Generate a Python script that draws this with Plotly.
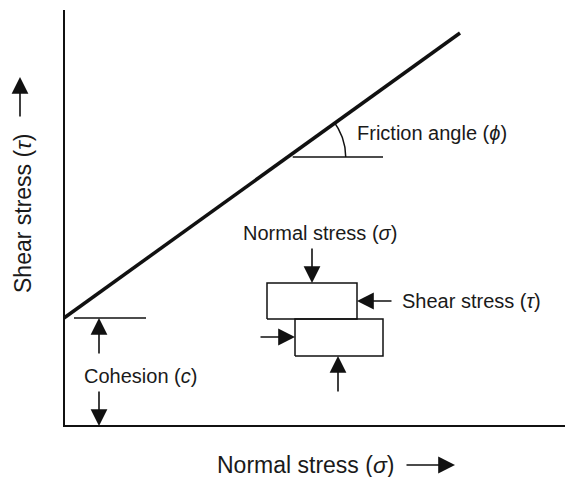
import numpy as np
import plotly.graph_objects as go

# --- diagram quantities (data units: 1 unit ~ 1 px in the reference) ---
cohesion = 108            # tau intercept (c)
sigma_max = 396           # end of failure envelope
tau_end = 393             # tau at sigma_max
axis_len_x = 520
axis_len_y = 416
phi_ref_tau = 269         # level at which friction angle is shown
phi_line_end = 319
phi_arc_r = 58

# block diagram (direct shear box)
upper_block = dict(x0=203, x1=293, y0=107, y1=143)
lower_block = dict(x0=231, x1=319, y0=70, y1=107)

labels = {
    "cohesion": "Cohesion (<i>c</i>)",
    "phi": "Friction angle (<i>ϕ</i>)",
    "normal": "Normal stress (<i>σ</i>)",
    "shear": "Shear stress (<i>τ</i>)",
    "xtitle": "Normal stress (<i>σ</i>)",
    "ytitle": "Shear stress (<i>τ</i>)",
}

slope = (tau_end - cohesion) / sigma_max
phi = np.arctan(slope)
sig_phi = (phi_ref_tau - cohesion) / slope

FONT = dict(family="Liberation Sans, Arial, sans-serif", size=20, color="#1a1a1a")
TFONT = dict(family="Liberation Sans, Arial, sans-serif", size=23, color="#1a1a1a")
INK = "#111111"

fig = go.Figure()

# axes
fig.add_trace(go.Scatter(x=[0, 0, axis_len_x], y=[axis_len_y, 0, 0], mode="lines",
                         line=dict(color=INK, width=2), hoverinfo="skip"))
# failure envelope
fig.add_trace(go.Scatter(x=[0, sigma_max], y=[cohesion, tau_end], mode="lines",
                         line=dict(color=INK, width=3.5), hoverinfo="skip"))
# cohesion reference line
fig.add_trace(go.Scatter(x=[10, 82], y=[cohesion, cohesion], mode="lines",
                         line=dict(color=INK, width=1.5), hoverinfo="skip"))
# friction angle horizontal line and arc
fig.add_trace(go.Scatter(x=[sig_phi + 5, phi_line_end], y=[phi_ref_tau, phi_ref_tau], mode="lines",
                         line=dict(color=INK, width=1.5), hoverinfo="skip"))
t = np.linspace(0, phi, 40)
fig.add_trace(go.Scatter(x=sig_phi + phi_arc_r * np.cos(t), y=phi_ref_tau + phi_arc_r * np.sin(t),
                         mode="lines", line=dict(color=INK, width=1.5), hoverinfo="skip"))
# blocks
for b in (upper_block, lower_block):
    fig.add_trace(go.Scatter(x=[b["x0"], b["x1"], b["x1"], b["x0"], b["x0"]],
                             y=[b["y0"], b["y0"], b["y1"], b["y1"], b["y0"]],
                             mode="lines", line=dict(color=INK, width=1.5), hoverinfo="skip"))

def arrow(x0, y0, x1, y1):
    fig.add_annotation(x=x1, y=y1, ax=x0, ay=y0, xref="x", yref="y", axref="x", ayref="y",
                       showarrow=True, arrowhead=2, arrowsize=2.1, arrowwidth=1.6,
                       arrowcolor=INK, text="", standoff=0, startstandoff=0)

# cohesion arrows
arrow(35, 71, 35, cohesion)
arrow(35, 36, 35, 0)
# block arrows
arrow(248, 179, 248, upper_block["y1"])
arrow(329, 125, upper_block["x1"], 125)
arrow(195, 89, lower_block["x0"], 89)
arrow(274, 33, 274, lower_block["y0"])
# axis title arrows
arrow(341, -39, 391, -39)
arrow(-44, 308, -44, 349)

def text(x, y, s, anchor="center", angle=0, font=FONT):
    fig.add_annotation(x=x, y=y, xref="x", yref="y", text=s, showarrow=False,
                       xanchor=anchor, yanchor="middle", font=font, textangle=angle)

text(76, 50, labels["cohesion"])
text(291, 293, labels["phi"], anchor="left")
text(256, 193, labels["normal"])
text(336, 125, labels["shear"], anchor="left")
text(241, -39, labels["xtitle"], font=TFONT)
text(-41, 212, labels["ytitle"], angle=-90, font=TFONT)

# the page body adds an 8 px offset, so the ranges are shifted by 8 px
fig.update_layout(
    width=573, height=477, margin=dict(l=0, r=0, t=0, b=0),
    paper_bgcolor="white", plot_bgcolor="white", showlegend=False,
    xaxis=dict(range=[-56, 517], visible=False, fixedrange=True),
    yaxis=dict(range=[-59, 418], visible=False, fixedrange=True),
)

fig.write_html("out.html")
